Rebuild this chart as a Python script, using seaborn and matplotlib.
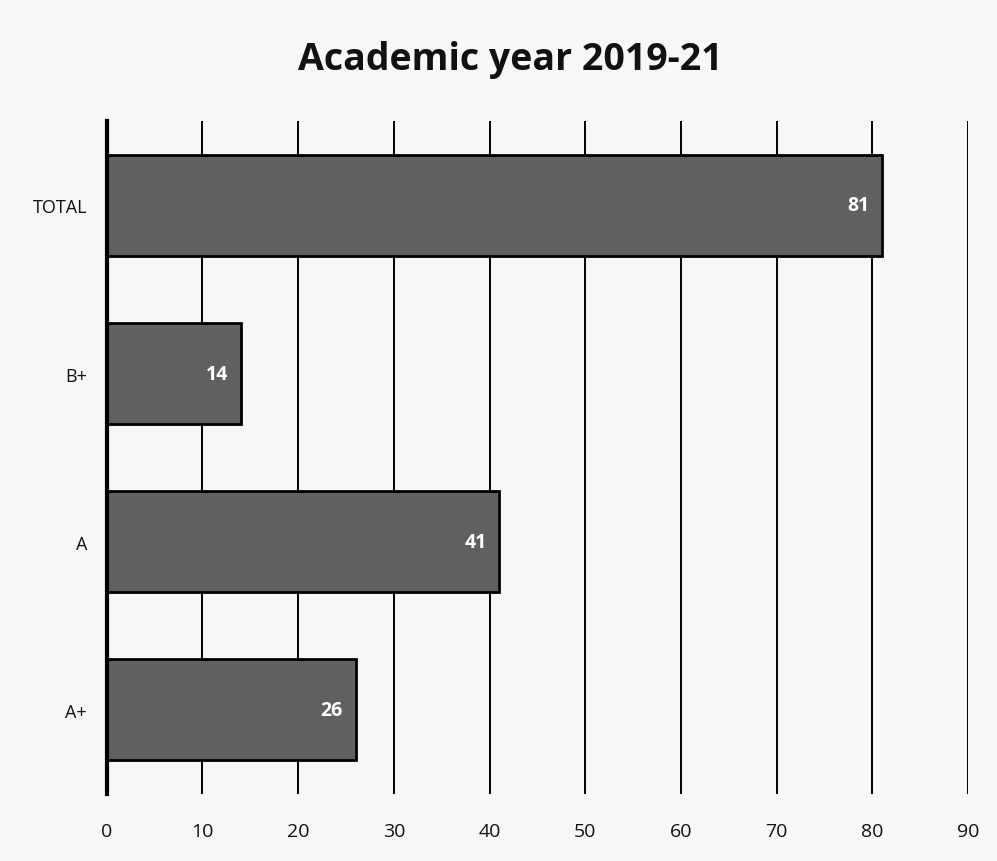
import matplotlib
matplotlib.use("Agg")
import matplotlib.pyplot as plt
import seaborn as sns
import pandas as pd

# ------------------------------------------------------------
# Data
# ------------------------------------------------------------
categories = ["TOTAL", "B+", "A", "A+"]
counts = [81, 14, 41, 26]
x_ticks = [0, 10, 20, 30, 40, 50, 60, 70, 80, 90]

TITLE = "Academic year 2019-21"

sns.set_theme(style="white")
plt.rcParams["font.family"] = ["Open Sans", "DejaVu Sans"]

df = pd.DataFrame({"grade": categories, "count": counts})

fig = plt.figure(figsize=(9.97, 8.62), dpi=100)
fig.patch.set_facecolor("#f7f7f7")
ax = fig.add_axes([0.107, 0.078, 0.864, 0.780])
ax.set_facecolor("#f7f7f7")

sns.barplot(data=df, x="count", y="grade", orient="h", color="#5e615e",
            saturation=1, width=0.6, edgecolor="black", linewidth=2,
            zorder=3, ax=ax)

# value labels inside the bar end
for patch, v in zip(ax.patches, counts):
    y = patch.get_y() + patch.get_height() / 2
    ax.annotate(str(v), xy=(v, y), xytext=(-9, 0), textcoords="offset points",
                ha="right", va="center", color="white", fontsize=14,
                fontweight="bold", zorder=4)

ax.set_xlim(0, 90)
ax.set_xticks(x_ticks)
ax.set_xticklabels([str(t) for t in x_ticks])
ax.grid(axis="x", color="black", linewidth=1.4, zorder=0)
ax.grid(axis="y", visible=False)

for side in ["top", "right", "bottom"]:
    ax.spines[side].set_visible(False)
ax.spines["left"].set_color("black")
ax.spines["left"].set_linewidth(3)
ax.spines["left"].set_zorder(5)

ax.tick_params(axis="x", length=0, pad=20, labelsize=14, colors="#111111")
ax.tick_params(axis="y", length=0, pad=14, labelsize=13, colors="#111111")
ax.set_xlabel("")
ax.set_ylabel("")

fig.text(0.512, 0.93, TITLE, ha="center", va="center", fontsize=27,
         fontweight="bold", color="#111111")

fig.savefig("out.png", dpi=100, facecolor=fig.get_facecolor())
